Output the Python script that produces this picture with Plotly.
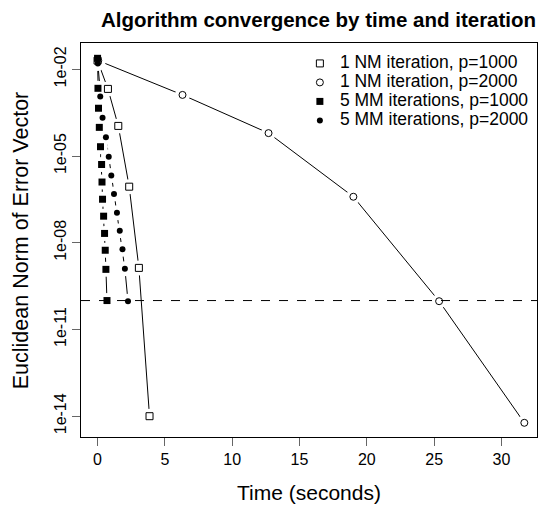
import plotly.graph_objects as go

# NM = Newton iterations, MM = majorize-minimize iterations
labels = ["1 NM iteration, p=1000", "1 NM iteration, p=2000",
          "5 MM iterations, p=1000", "5 MM iterations, p=2000"]

t_nm1000 = [0.0, 0.77, 1.54, 2.35, 3.07, 3.86]
e_nm1000 = [2.0e-02, 2.1e-03, 1.1e-04, 8.7e-07, 1.35e-09, 1.0e-14]

t_nm2000 = [0.05, 6.31, 12.70, 19.00, 25.37, 31.70]
e_nm2000 = [2.0e-02, 1.3e-03, 6.2e-05, 3.9e-07, 9.5e-11, 5.9e-15]

t_mm1000 = [0.0, 0.03, 0.07, 0.13, 0.22, 0.30, 0.33, 0.37, 0.45, 0.52, 0.57, 0.62, 0.70]
e_mm1000 = [2.4e-02, 2.2e-03, 4.5e-04, 9.8e-05, 2.1e-05, 5.1e-06, 1.26e-06,
            3.2e-07, 8.3e-08, 2.1e-08, 5.5e-09, 1.2e-09, 1.0e-10]

t_mm2000 = [0.02, 0.20, 0.37, 0.62, 0.83, 1.02, 1.22, 1.44, 1.65, 1.85, 2.03, 2.26]
e_mm2000 = [1.6e-02, 1.15e-03, 2.1e-04, 4.5e-05, 9.5e-06, 2.1e-06, 4.9e-07,
            1.1e-07, 2.6e-08, 6.0e-09, 1.26e-09, 9.5e-11]

tolerance = 1e-10

x_ticks = [0, 5, 10, 15, 20, 25, 30]
y_ticks = [1e-02, 1e-05, 1e-08, 1e-11, 1e-14]
y_ticktext = ["1e-02", "1e-05", "1e-08", "1e-11", "1e-14"]

series = [
    (t_nm1000, e_nm1000, dict(symbol="square", size=7, color="white", line=dict(color="black", width=1))),
    (t_nm2000, e_nm2000, dict(symbol="circle", size=7, color="white", line=dict(color="black", width=1))),
    (t_mm1000, e_mm1000, dict(symbol="square", size=7, color="black", line=dict(width=0))),
    (t_mm2000, e_mm2000, dict(symbol="circle", size=6, color="black", line=dict(width=0))),
]

fig = go.Figure()

# lines first
for t, e, m in series:
    fig.add_trace(go.Scatter(x=t, y=e, mode="lines", showlegend=False, hoverinfo="skip",
                             line=dict(color="black", width=1)))
# white halos give the R type="b" gaps around points
for t, e, m in series:
    fig.add_trace(go.Scatter(x=t, y=e, mode="markers", showlegend=False, hoverinfo="skip",
                             marker=dict(symbol="circle", size=15, color="white", line=dict(width=0))))
# points; legend text is drawn larger than the legend font so rows stay tight
for (t, e, m), name in zip(series, labels):
    fig.add_trace(go.Scatter(x=t, y=e, mode="markers", marker=m,
                             name='<span style="font-size:17.5px">%s</span>' % name))

fig.add_shape(type="line", xref="paper", x0=0, x1=1, yref="y", y0=tolerance, y1=tolerance,
              line=dict(color="black", width=1, dash="dash"), layer="above")

fig.add_annotation(text="Time (seconds)", xref="paper", yref="paper", x=0.5, y=-0.142,
                   xanchor="center", yanchor="middle", showarrow=False, font=dict(size=21))
fig.add_annotation(text="Euclidean Norm of Error Vector", xref="paper", yref="paper",
                   x=-0.131, y=0.5, xanchor="center", yanchor="middle", textangle=-90,
                   showarrow=False, font=dict(size=21.5))

fig.update_layout(
    width=538, height=509,
    margin=dict(l=81, r=1, t=43, b=72),
    paper_bgcolor="white", plot_bgcolor="white",
    font=dict(family="Liberation Sans, Arial, sans-serif", color="black", size=16),
    title=dict(text="<b>Algorithm convergence by time and iteration</b>",
               x=0.998, xref="paper", xanchor="right", y=0.962, yref="container",
               yanchor="middle", font=dict(size=20.5)),
    legend=dict(x=0.48, y=0.985, xanchor="left", yanchor="top", bgcolor="rgba(0,0,0,0)",
                font=dict(size=12), tracegroupgap=0),
    xaxis=dict(range=[-1.23, 32.64], tickvals=x_ticks, ticks="outside", ticklen=8,
               tickcolor="#666", showline=True, mirror=True, linecolor="black",
               showgrid=False, zeroline=False, tickfont=dict(size=16), automargin=False),
    yaxis=dict(type="log", range=[-14.72, -1.09], tickvals=y_ticks, ticktext=y_ticktext,
               tickangle=-90, ticks="outside", ticklen=8, tickcolor="#666",
               showline=True, mirror=True, linecolor="black", showgrid=False,
               zeroline=False, tickfont=dict(size=16), automargin=False),
)

# drop the page's default body margin so the 538x509 figure fills the window exactly
fig.write_html("out.html", config={"displayModeBar": False},
               post_script="document.body.style.margin='0';document.body.style.overflow='hidden';")
